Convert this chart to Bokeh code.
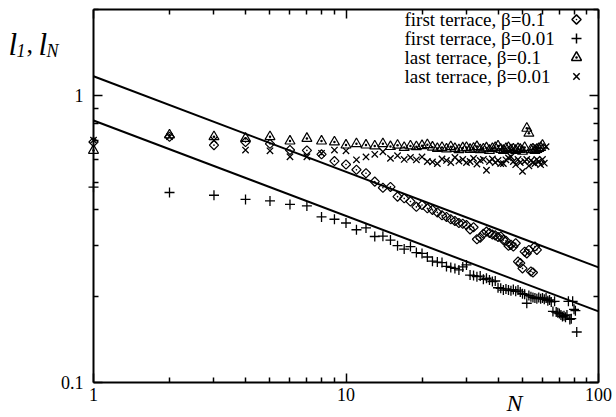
import math
from bokeh.plotting import figure
from bokeh.models import LogAxis, FixedTicker, Label, Range1d, CustomJSTickFormatter
from bokeh.embed import file_html
from bokeh.resources import INLINE
from bokeh.core.properties import value

# ---------------- data ----------------
N_plus = list(range(1, 83))
first_b001 = [0.48, 0.46, 0.45, 0.435, 0.43, 0.418, 0.413, 0.378, 0.371, 0.36,
              0.341, 0.346, 0.323, 0.324, 0.314, 0.300, 0.292, 0.298, 0.284, 0.282,
              0.274, 0.265, 0.263, 0.262, 0.254, 0.252, 0.250, 0.247, 0.253, 0.257,
              0.237, 0.236, 0.234, 0.235, 0.229, 0.231, 0.228, 0.225, 0.226, 0.214,
              0.213, 0.210, 0.212, 0.210, 0.209, 0.211, 0.208, 0.210, 0.207, 0.204,
              0.203, 0.189, 0.201, 0.199, 0.198, 0.197, 0.196, 0.198, 0.196, 0.197,
              0.195, 0.197, 0.193, 0.194, 0.191, 0.177, 0.192, 0.176, 0.175, 0.174,
              0.172, 0.170, 0.171, 0.169, 0.172, 0.192, 0.166, 0.167, 0.192, 0.180,
              0.178, 0.150]

N_diam = list(range(1, 58))
first_b01 = [0.69, 0.72, 0.673, 0.69, 0.68, 0.647, 0.645, 0.625, 0.592, 0.576,
             0.552, 0.537, 0.502, 0.478, 0.481, 0.445, 0.439, 0.428, 0.41, 0.416,
             0.405, 0.40, 0.392, 0.383, 0.378, 0.371, 0.366, 0.360, 0.358, 0.354,
             0.342, 0.348, 0.316, 0.320, 0.330, 0.336, 0.332, 0.328, 0.326, 0.322,
             0.323, 0.314, 0.312, 0.300, 0.302, 0.298, 0.306, 0.264, 0.261, 0.250,
             0.286, 0.282, 0.290, 0.244, 0.242, 0.298, 0.290]

N_tri = list(range(1, 61))
last_b01 = [0.645, 0.73, 0.72, 0.71, 0.72, 0.695, 0.71, 0.695, 0.69, 0.673,
            0.68, 0.673, 0.668, 0.68, 0.665, 0.672, 0.66, 0.668, 0.664, 0.67,
            0.675, 0.662, 0.655, 0.66, 0.652, 0.664, 0.655, 0.648, 0.658, 0.66,
            0.65, 0.656, 0.665, 0.648, 0.652, 0.658, 0.645, 0.655, 0.66, 0.668,
            0.65, 0.645, 0.655, 0.66, 0.648, 0.652, 0.645, 0.655, 0.65, 0.64,
            0.66, 0.77, 0.74, 0.648, 0.652, 0.645, 0.65, 0.655, 0.66, 0.672]

N_x = list(range(1, 63))
last_b001 = [0.70, 0.72, 0.70, 0.647, 0.643, 0.613, 0.613, 0.63, 0.647, 0.643,
             0.598, 0.612, 0.625, 0.638, 0.605, 0.618, 0.60, 0.61, 0.598, 0.612,
             0.59, 0.588, 0.58, 0.602, 0.595, 0.585, 0.61, 0.592, 0.60, 0.585,
             0.59, 0.605, 0.578, 0.595, 0.60, 0.55, 0.59, 0.602, 0.585, 0.595,
             0.58, 0.58, 0.598, 0.607, 0.613, 0.59, 0.575, 0.60, 0.585, 0.545,
             0.59, 0.60, 0.57, 0.595, 0.585, 0.58, 0.60, 0.59, 0.575, 0.60,
             0.582, 0.665]

fit_N = [1, 100]
fit_upper = [1.17, 0.252]
fit_lower = [0.82, 0.177]

legend_labels = ["first terrace, \u03b2=0.1", "first terrace, \u03b2=0.01",
                 "last terrace, \u03b2=0.1", "last terrace, \u03b2=0.01"]

x_ticks = [1, 10, 100]
x_minor = [2, 3, 4, 5, 6, 7, 8, 9, 20, 30, 40, 50, 60, 70, 80, 90]
y_ticks = [0.1, 1]
y_minor = [0.2, 0.3, 0.4, 0.5, 0.6, 0.7, 0.8, 0.9, 2]

# ---------------- layout ----------------
W, H = 612, 413
FL, FT = 93, 9          # where the visible plot box sits on the canvas
FW, FH = 505, 373
XMIN, XMAX, YMIN, YMAX = 1.0, 100.0, 0.1, 2.0
FONT = "Liberation Serif"


def px_x(xp):
    """canvas x pixel -> data x"""
    fx = xp - FL
    return 10 ** (math.log10(XMIN) + fx / FW * (math.log10(XMAX) - math.log10(XMIN)))


def px_y(yp):
    """canvas y pixel -> data y"""
    fy = yp - FT
    return 10 ** (math.log10(YMAX) - fy / FH * (math.log10(YMAX) - math.log10(YMIN)))


# the bokeh frame covers the whole canvas; the visible box is made of 4 axes
p = figure(width=W, height=H, x_axis_type="log", y_axis_type="log",
           x_axis_location=None, y_axis_location=None,
           x_range=Range1d(px_x(0), px_x(W)), y_range=Range1d(px_y(H), px_y(0)),
           output_backend="svg", toolbar_location=None,
           min_border_left=0, min_border_right=0,
           min_border_top=0, min_border_bottom=0)
p.xgrid.visible = False
p.ygrid.visible = False
p.outline_line_color = None
p.background_fill_color = "white"
p.border_fill_color = "white"

bottom_ax = LogAxis(fixed_location=YMIN, bounds=(XMIN, XMAX))
top_ax = LogAxis(fixed_location=YMAX, bounds=(XMIN, XMAX))
left_ax = LogAxis(fixed_location=XMIN, bounds=(YMIN, YMAX))
right_ax = LogAxis(fixed_location=XMAX, bounds=(YMIN, YMAX))
p.add_layout(bottom_ax, "below")
p.add_layout(top_ax, "above")
p.add_layout(left_ax, "left")
p.add_layout(right_ax, "right")

num_fmt = CustomJSTickFormatter(code="return String(tick);")
blank_fmt = CustomJSTickFormatter(code="return '';")

for ax, tk, mn in [(bottom_ax, x_ticks, x_minor), (top_ax, x_ticks, x_minor),
                   (left_ax, y_ticks, y_minor), (right_ax, y_ticks, y_minor)]:
    ax.ticker = FixedTicker(ticks=tk, minor_ticks=mn)
    ax.axis_line_color = "black"
    ax.axis_line_width = 2
    ax.major_tick_in = 9
    ax.major_tick_out = 0
    ax.minor_tick_in = 5
    ax.minor_tick_out = 0
    ax.major_tick_line_width = 1.5
    ax.minor_tick_line_width = 1.5
    ax.major_tick_line_color = "black"
    ax.minor_tick_line_color = "black"
    ax.major_label_text_font = FONT
    ax.major_label_text_font_size = "18px"
    ax.major_label_text_color = "black"
    ax.formatter = num_fmt

for ax in (top_ax, right_ax):
    ax.formatter = blank_fmt
    ax.major_label_standoff = 0

bottom_ax.major_label_standoff = 5
left_ax.major_label_standoff = 10

# fit lines
p.line(fit_N, fit_upper, line_color="black", line_width=2)
p.line(fit_N, fit_lower, line_color="black", line_width=2)

# data
p.scatter(N_tri, last_b01, marker="triangle_dot", size=10, fill_color=None,
          line_color="black", line_width=1.2)
p.scatter(N_x, last_b001, marker="x", size=9, line_color="black", line_width=1.3)
p.scatter(N_diam, first_b01, marker="square_dot", angle=math.pi / 4, size=6.5,
          fill_color=None, line_color="black", line_width=1.2)
p.scatter(N_plus, first_b001, marker="cross", size=10, line_color="black",
          line_width=1.3)

# legend (drawn by hand: text first, symbol after)
leg_y = [px_y(yy) for yy in (19, 38, 57, 76)]
leg_tx = px_x(404)
leg_mx = px_x(576)
p.text([leg_tx] * 4, leg_y, text=legend_labels, text_font=value(FONT),
       text_font_size="19px", text_align="left", text_baseline="middle",
       text_color="black")
p.scatter([leg_mx], [leg_y[0]], marker="square_dot", angle=math.pi / 4, size=6.5,
          fill_color=None, line_color="black", line_width=1.5)
p.scatter([leg_mx], [leg_y[1]], marker="cross", size=10, line_color="black",
          line_width=1.5)
p.scatter([leg_mx], [leg_y[2]], marker="triangle_dot", size=10, fill_color=None,
          line_color="black", line_width=1.5)
p.scatter([leg_mx], [leg_y[3]], marker="x", size=9, line_color="black",
          line_width=1.5)


# axis titles
def add_label(xp, yp, txt, size, style="italic", align="left"):
    p.add_layout(Label(x=px_x(xp), y=px_y(yp), text=txt, text_font=FONT,
                       text_font_size=size, text_font_style=style,
                       text_align=align, text_baseline="alphabetic",
                       text_color="black"))


add_label(8, 44, "l", "31px")
add_label(16, 50, "1", "18px")
add_label(26, 44, ",", "26px", style="normal")
add_label(38, 44, "l", "31px")
add_label(46, 50, "N", "18px")
add_label(514, 402, "N", "24px", align="center")

open("out.html", "w").write(file_html(p, INLINE))
